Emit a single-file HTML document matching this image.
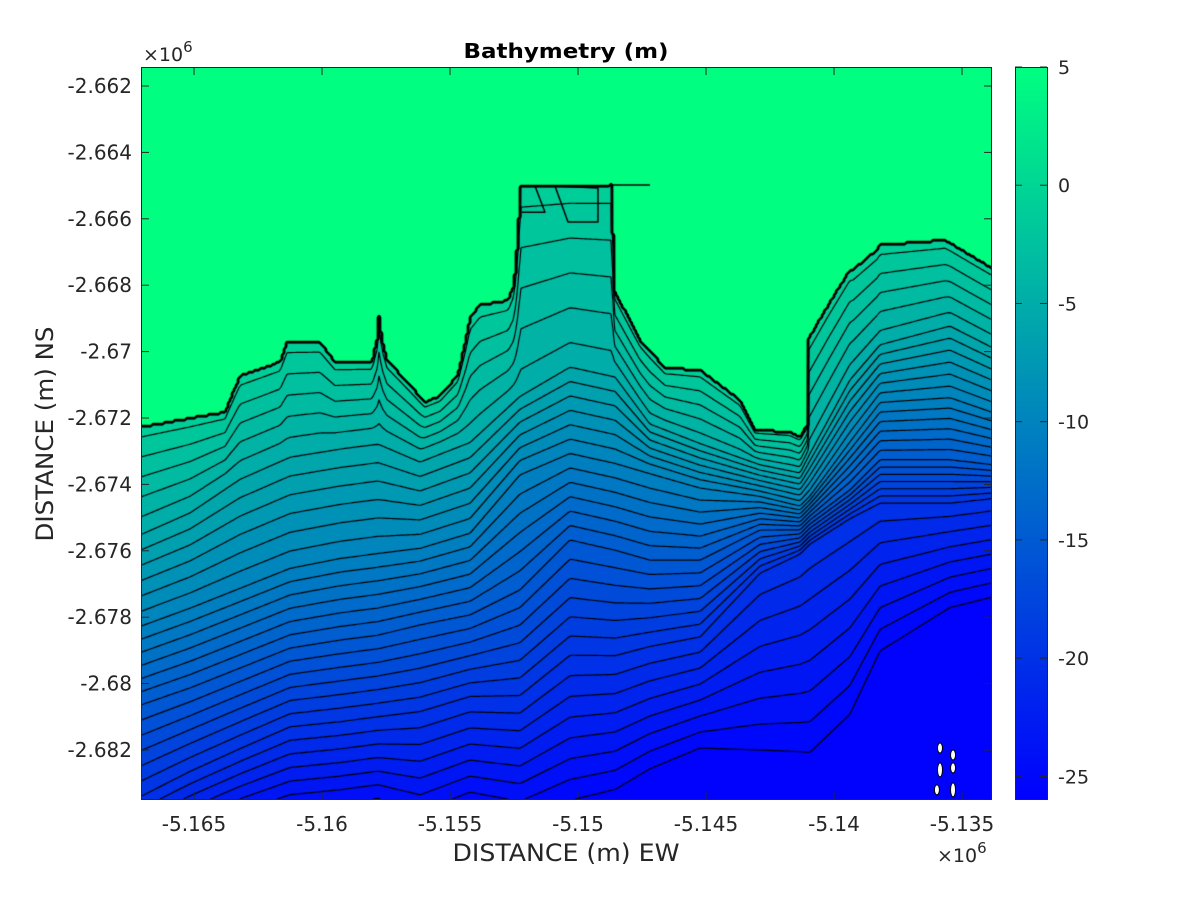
<!DOCTYPE html>
<html><head><meta charset="utf-8"><style>
html,body{margin:0;padding:0;background:#fff;}
#wrap{position:relative;width:1200px;height:900px;overflow:hidden;background:#fff;}
canvas{position:absolute;left:141px;top:67px;}
svg{position:absolute;left:0;top:0;}
text{font-family:"DejaVu Sans","Liberation Sans",sans-serif;fill:#262626;}
</style></head><body>
<div id="wrap">
<canvas id="cv" width="851" height="733"></canvas>
<svg id="sv" width="1200" height="900"></svg>
</div>
<script>
// ---- data ----
const shoreX=[-5.16707,-5.16555,-5.16379,-5.16352,-5.16320,-5.16164,-5.16137,-5.16008,-5.15949,-5.15805,-5.15785,-5.15777,-5.15766,-5.15746,-5.15656,-5.15598,-5.15539,-5.15469,-5.15438,-5.15422,-5.15383,-5.15273,-5.15250,-5.15238,-5.15223,-5.14867,-5.14859,-5.14758,-5.14660,-5.14523,-5.14367,-5.14309,-5.14172,-5.14133,-5.14105,-5.14102,-5.14023,-5.13938,-5.13926,-5.13832,-5.13820,-5.13566,-5.13469,-5.13383];
const shoreY=[-2.67227,-2.67206,-2.67182,-2.67131,-2.67073,-2.67031,-2.66971,-2.66971,-2.67031,-2.67031,-2.66965,-2.66890,-2.66965,-2.67025,-2.67101,-2.67152,-2.67134,-2.67070,-2.66965,-2.66899,-2.66860,-2.66845,-2.66799,-2.66694,-2.66504,-2.66498,-2.66814,-2.66965,-2.67049,-2.67055,-2.67146,-2.67236,-2.67242,-2.67257,-2.67221,-2.66965,-2.66860,-2.66754,-2.66754,-2.66694,-2.66679,-2.66664,-2.66709,-2.66748];
const colX=[-5.16707,-5.16516,-5.16320,-5.16125,-5.15930,-5.15781,-5.15617,-5.15422,-5.15227,-5.15031,-5.14855,-5.14719,-5.14523,-5.14289,-5.14133,-5.14094,-5.13938,-5.13820,-5.13547,-5.13383];
const depth5Y=[-2.67528,-2.67462,-2.67357,-2.67290,-2.67266,-2.67251,-2.67311,-2.67251,-2.67116,-2.67025,-2.67055,-2.67206,-2.67266,-2.67333,-2.67357,-2.67296,-2.67070,-2.66965,-2.66905,-2.66971];
const depth10Y=[-2.67817,-2.67763,-2.67703,-2.67643,-2.67613,-2.67598,-2.67583,-2.67537,-2.67357,-2.67296,-2.67326,-2.67357,-2.67402,-2.67432,-2.67462,-2.67432,-2.67266,-2.67146,-2.67131,-2.67176];
const depth15Y=[-2.68064,-2.68013,-2.67953,-2.67893,-2.67869,-2.67854,-2.67823,-2.67793,-2.67718,-2.67567,-2.67598,-2.67628,-2.67628,-2.67537,-2.67537,-2.67507,-2.67417,-2.67326,-2.67326,-2.67341];
const depth20Y=[-2.68351,-2.68275,-2.68206,-2.68140,-2.68125,-2.68110,-2.68095,-2.68049,-2.68049,-2.67929,-2.67929,-2.67899,-2.67869,-2.67673,-2.67613,-2.67583,-2.67507,-2.67462,-2.67462,-2.67447];
const depth25Y=[-2.68561,-2.68501,-2.68441,-2.68396,-2.68381,-2.68366,-2.68411,-2.68351,-2.68381,-2.68320,-2.68290,-2.68230,-2.68170,-2.68161,-2.68161,-2.68161,-2.68049,-2.67869,-2.67748,-2.67718];
const levelDepths=[-1,-5,-10,-15,-20,-25];
const landDepth=5, minDepth=-26, contourStep=0.8;
const islandX=[-5.13586,-5.13586,-5.13598,-5.13535,-5.13535,-5.13535];
const islandY=[-2.68194,-2.68260,-2.68320,-2.68215,-2.68254,-2.68320];
const detailX=[[-5.15168,-5.15129,-5.15219],[-5.15090,-5.15039,-5.14922,-5.14922,-5.15090],[-5.14867,-5.14719]];
const detailY=[[-2.66501,-2.66580,-2.66580],[-2.66501,-2.66610,-2.66610,-2.66507,-2.66501],[-2.66498,-2.66498]];
const xTicks=[-5.165,-5.16,-5.155,-5.15,-5.145,-5.14,-5.135];
const xTickLabels=["-5.165","-5.16","-5.155","-5.15","-5.145","-5.14","-5.135"];
const yTicks=[-2.662,-2.664,-2.666,-2.668,-2.67,-2.672,-2.674,-2.676,-2.678,-2.68,-2.682];
const yTickLabels=["-2.662","-2.664","-2.666","-2.668","-2.67","-2.672","-2.674","-2.676","-2.678","-2.68","-2.682"];
const cbTicks=[5,0,-5,-10,-15,-20,-25];
const cbTickLabels=["5","0","-5","-10","-15","-20","-25"];

// ---- scales (page px) ----
const PL=141,PT=67,PR=992,PB=800;
function xScale(x){return 194+(x+5.165)/0.005*128;}
function yScale(y){return 86+(-2.662-y)/0.002*66.4;}
function cbScale(d){return PT+(landDepth-d)/(landDepth-minDepth)*(PB-PT);}
function interp(xs,ys,x){
  if(x<=xs[0])return ys[0];
  const n=xs.length;
  if(x>=xs[n-1])return ys[n-1];
  for(let i=1;i<n;i++){if(x<=xs[i]){const t=(x-xs[i-1])/(xs[i]-xs[i-1]||1);return ys[i-1]+t*(ys[i]-ys[i-1]);}}
  return ys[n-1];
}
function color(d){
  let c=(d-minDepth)/(landDepth-minDepth);c=Math.max(0,Math.min(1,c));
  return [0,Math.round(255*c),Math.round(255*(1-0.5*c))];
}
const W=PR-PL,H=PB-PT;
const levYs=[depth5Y,depth10Y,depth15Y,depth20Y,depth25Y];
const prof=[];
for(let lx=0;lx<=W;lx++){
  const xd=-5.165+((lx+PL)-194)/128*0.005;
  const P=[yScale(interp(shoreX,shoreY,xd))-PT];
  for(const arr of levYs){let v=yScale(interp(colX,arr,xd))-PT;if(v<P[P.length-1]+0.5)v=P[P.length-1]+0.5;P.push(v);}
  prof.push(P);
}
function depthAt(lx,ly){
  const P=prof[Math.max(0,Math.min(W,Math.round(lx)))];
  if(ly<P[0])return landDepth;
  for(let k=1;k<P.length;k++){
    if(ly<=P[k]){const t=(ly-P[k-1])/(P[k]-P[k-1]);return levelDepths[k-1]+t*(levelDepths[k]-levelDepths[k-1]);}
  }
  const n=P.length;const slope=(levelDepths[n-1]-levelDepths[n-2])/(P[n-1]-P[n-2]);
  return Math.max(minDepth,levelDepths[n-1]+slope*(ly-P[n-1]));
}
const levels=[];for(let L=landDepth-contourStep;L>minDepth;L-=contourStep)levels.push(L);
// ---- fill ----
const cv=document.getElementById('cv');const ctx=cv.getContext('2d');
const img=ctx.createImageData(W,H);
for(let ly=0;ly<H;ly++){for(let lx=0;lx<W;lx++){
  const d=depthAt(lx+0.5,ly+0.5);
  let n=Math.floor((landDepth-d)/contourStep+1e-9);
  let mid=landDepth-contourStep*n-contourStep/2;
  if(d>=landDepth)mid=landDepth;
  const c=color(mid);const o=(ly*W+lx)*4;
  img.data[o]=c[0];img.data[o+1]=c[1];img.data[o+2]=c[2];img.data[o+3]=255;
}}
ctx.putImageData(img,0,0);
// ---- contours (marching squares) ----
const s=2,nx=Math.floor(W/s)+1,ny=Math.floor(H/s)+1;
const G=new Float32Array(nx*ny);
for(let j=0;j<ny;j++)for(let i=0;i<nx;i++)G[j*nx+i]=depthAt(i*s,j*s);
ctx.strokeStyle='#000';ctx.lineWidth=1.2;ctx.lineJoin='round';
for(const L of levels){
  ctx.beginPath();
  for(let j=0;j<ny-1;j++)for(let i=0;i<nx-1;i++){
    const a=G[j*nx+i],b=G[j*nx+i+1],c=G[(j+1)*nx+i+1],d=G[(j+1)*nx+i];
    const pts=[];const x0=i*s,y0=j*s;
    if((a>=L)!==(b>=L))pts.push([x0+s*(L-a)/(b-a),y0]);
    if((b>=L)!==(c>=L))pts.push([x0+s,y0+s*(L-b)/(c-b)]);
    if((d>=L)!==(c>=L))pts.push([x0+s*(L-d)/(c-d),y0+s]);
    if((a>=L)!==(d>=L))pts.push([x0,y0+s*(L-a)/(d-a)]);
    for(let k=0;k+1<pts.length;k+=2){ctx.moveTo(pts[k][0],pts[k][1]);ctx.lineTo(pts[k+1][0],pts[k+1][1]);}
  }
  ctx.stroke();
}
ctx.lineWidth=1.5;
for(let p=0;p<detailX.length;p++){
  ctx.beginPath();
  for(let k=0;k<detailX[p].length;k++){const X=xScale(detailX[p][k])-PL,Y=yScale(detailY[p][k])-PT;if(k===0)ctx.moveTo(X,Y);else ctx.lineTo(X,Y);}
  ctx.stroke();
}
// ---- svg overlay ----
const NS='http://www.w3.org/2000/svg';const sv=document.getElementById('sv');
function mk(tag,attrs,parent){const e=document.createElementNS(NS,tag);for(const k in attrs)e.setAttribute(k,attrs[k]);(parent||sv).appendChild(e);return e;}
for(let k=0;k<islandX.length;k++){
  const e=mk('ellipse',{cx:xScale(islandX[k]),cy:yScale(islandY[k]),rx:2.5,ry:(k===1||k===5)?7:5,fill:'#fff',stroke:'#000','stroke-width':1});
  
  
}
const box=mk('rect',{x:PL+0.5,y:PT+0.5,width:W-1,height:H-1,fill:'none',stroke:'#262626','stroke-width':1});


for(let k=0;k<xTicks.length;k++){
  const X=xScale(xTicks[k]);
  const t1=mk('line',{x1:X,y1:PB,x2:X,y2:PB-8,stroke:'#262626'});
  
  
  mk('line',{x1:X,y1:PT,x2:X,y2:PT+8,stroke:'#262626'});
  const t=mk('text',{x:X,y:831,'text-anchor':'middle','font-size':20});t.textContent=xTickLabels[k];
  
  
}
for(let k=0;k<yTicks.length;k++){
  const Y=yScale(yTicks[k]);
  const t1=mk('line',{x1:PL,y1:Y,x2:PL+8,y2:Y,stroke:'#262626'});
  
  
  mk('line',{x1:PR,y1:Y,x2:PR-8,y2:Y,stroke:'#262626'});
  const t=mk('text',{x:132,y:Y+7,'text-anchor':'end','font-size':20});t.textContent=yTickLabels[k];
  
  
}
const defs=mk('defs',{});const lg=mk('linearGradient',{id:'cg',x1:0,y1:0,x2:0,y2:1},defs);
mk('stop',{offset:'0','stop-color':'rgb(0,255,128)'},lg);mk('stop',{offset:'1','stop-color':'rgb(0,0,255)'},lg);
const cb=mk('rect',{x:1015.5,y:PT+0.5,width:32,height:H-1,fill:'url(#cg)',stroke:'#262626','stroke-width':1});


for(let k=0;k<cbTicks.length;k++){
  const Y=cbScale(cbTicks[k]);
  mk('line',{x1:1040,y1:Y,x2:1047,y2:Y,stroke:'#262626'});
  mk('line',{x1:1015,y1:Y,x2:1022,y2:Y,stroke:'#262626'});
  const t=mk('text',{x:1058,y:Y+7,'font-size':19});t.textContent=cbTickLabels[k];
  
  
}
</script>
<svg width="1200" height="900" style="position:absolute;left:0;top:0;pointer-events:none">
<text x="566" y="58" text-anchor="middle" font-size="20" font-weight="bold" textLength="205" lengthAdjust="spacingAndGlyphs" style="fill:#000">Bathymetry (m)</text>
<text x="566" y="861" text-anchor="middle" font-size="24" textLength="227" lengthAdjust="spacingAndGlyphs">DISTANCE (m) EW</text>
<text transform="translate(53,434) rotate(-90)" text-anchor="middle" font-size="24" textLength="215" lengthAdjust="spacingAndGlyphs">DISTANCE (m) NS</text>
<text x="143" y="61" font-size="19">×10<tspan dy="-9" font-size="15">6</tspan></text>
<text x="937" y="862" font-size="19">×10<tspan dy="-9" font-size="15">6</tspan></text>
</svg>
</body></html>
